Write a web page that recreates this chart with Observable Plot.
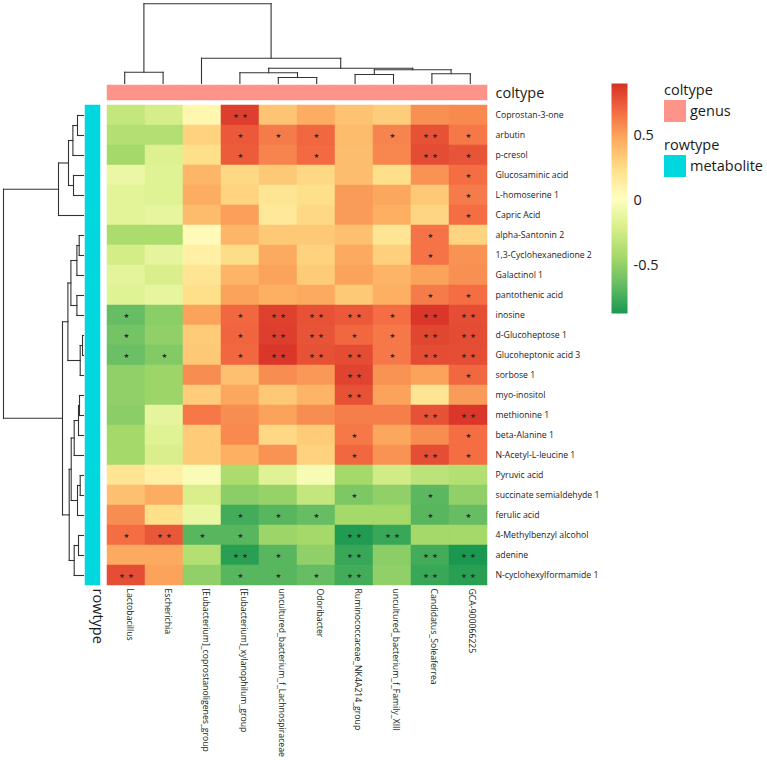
<!DOCTYPE html>
<html><head><meta charset="utf-8">
<script src="https://cdn.jsdelivr.net/npm/d3@7"></script>
<script src="https://cdn.jsdelivr.net/npm/@observablehq/plot@0.6"></script>
<style>
body{margin:0;background:#fff;}
#chart{position:relative;width:767px;height:764px;font-family:"Open Sans",sans-serif;}
#chart svg{position:absolute;left:0;top:0;}
</style></head><body><div id="chart"></div>
<script>
// ---------- data ----------
const genera = ["Lactobacillus","Escherichia","[Eubacterium]_coprostanoligenes_group","[Eubacterium]_xylanophilum_group","uncultured_bacterium_f_Lachnospiraceae","Odoribacter","Ruminococcaceae_NK4A214_group","uncultured_bacterium_f_Family_XIII","Candidatus_Soleaferrea","GCA-900066225"];
const metabolites = ["Coprostan-3-one","arbutin","p-cresol","Glucosaminic acid","L-homoserine 1","Capric Acid","alpha-Santonin 2","1,3-Cyclohexanedione 2","Galactinol 1","pantothenic acid","inosine","d-Glucoheptose 1","Glucoheptonic acid 3","sorbose 1","myo-inositol","methionine 1","beta-Alanine 1","N-Acetyl-L-leucine 1","Pyruvic acid","succinate semialdehyde 1","ferulic acid","4-Methylbenzyl alcohol","adenine","N-cyclohexylformamide 1"];
const corr = [
 [-0.30,-0.22, 0.08, 0.85, 0.36, 0.46, 0.37, 0.32, 0.56, 0.58],
 [-0.37,-0.37, 0.30, 0.75, 0.63, 0.70, 0.40, 0.60, 0.78, 0.64],
 [-0.43,-0.18, 0.24, 0.74, 0.60, 0.69, 0.39, 0.59, 0.80, 0.77],
 [-0.10,-0.17, 0.42, 0.27, 0.34, 0.27, 0.39, 0.24, 0.55, 0.68],
 [-0.15,-0.17, 0.46, 0.29, 0.20, 0.24, 0.52, 0.48, 0.34, 0.63],
 [-0.15,-0.12, 0.40, 0.51, 0.17, 0.27, 0.52, 0.45, 0.28, 0.68],
 [-0.40,-0.40, 0.05, 0.42, 0.34, 0.34, 0.38, 0.20, 0.66, 0.29],
 [-0.23,-0.13, 0.12, 0.25, 0.47, 0.30, 0.47, 0.31, 0.66, 0.55],
 [-0.14,-0.20, 0.20, 0.43, 0.50, 0.33, 0.50, 0.43, 0.50, 0.56],
 [-0.17,-0.12, 0.24, 0.50, 0.45, 0.47, 0.34, 0.45, 0.63, 0.68],
 [-0.65,-0.52, 0.50, 0.70, 0.84, 0.78, 0.75, 0.68, 0.88, 0.79],
 [-0.60,-0.50, 0.33, 0.71, 0.85, 0.77, 0.70, 0.64, 0.82, 0.80],
 [-0.63,-0.55, 0.34, 0.70, 0.88, 0.78, 0.80, 0.64, 0.80, 0.79],
 [-0.50,-0.46, 0.57, 0.38, 0.57, 0.53, 0.83, 0.55, 0.50, 0.70],
 [-0.50,-0.46, 0.32, 0.48, 0.34, 0.43, 0.78, 0.50, 0.20, 0.52],
 [-0.52,-0.13, 0.64, 0.57, 0.50, 0.57, 0.62, 0.62, 0.78, 0.88],
 [-0.43,-0.17, 0.33, 0.58, 0.27, 0.33, 0.64, 0.48, 0.57, 0.68],
 [-0.43,-0.20, 0.33, 0.45, 0.55, 0.30, 0.70, 0.55, 0.79, 0.68],
 [ 0.20, 0.12,-0.02,-0.40,-0.16,-0.03,-0.43,-0.24,-0.33,-0.37],
 [ 0.38, 0.46,-0.20,-0.52,-0.48,-0.30,-0.57,-0.50,-0.68,-0.50],
 [ 0.57, 0.24,-0.11,-0.75,-0.69,-0.65,-0.43,-0.43,-0.69,-0.65],
 [ 0.68, 0.76,-0.69,-0.69,-0.46,-0.43,-0.85,-0.78,-0.43,-0.43],
 [ 0.47, 0.47,-0.37,-0.83,-0.69,-0.50,-0.78,-0.52,-0.75,-0.87],
 [ 0.79, 0.50,-0.50,-0.69,-0.69,-0.65,-0.75,-0.50,-0.78,-0.83]
];
// significance: 0 none, 1 "*", 2 "**"
const stars = [
 [0,0,0,2,0,0,0,0,0,0],
 [0,0,0,1,1,1,0,1,2,1],
 [0,0,0,1,0,1,0,0,2,1],
 [0,0,0,0,0,0,0,0,0,1],
 [0,0,0,0,0,0,0,0,0,1],
 [0,0,0,0,0,0,0,0,0,1],
 [0,0,0,0,0,0,0,0,1,0],
 [0,0,0,0,0,0,0,0,1,0],
 [0,0,0,0,0,0,0,0,0,0],
 [0,0,0,0,0,0,0,0,1,1],
 [1,0,0,1,2,2,2,1,2,2],
 [1,0,0,1,2,2,1,1,2,2],
 [1,1,0,1,2,2,2,1,2,2],
 [0,0,0,0,0,0,2,0,0,1],
 [0,0,0,0,0,0,2,0,0,0],
 [0,0,0,0,0,0,0,0,2,2],
 [0,0,0,0,0,0,1,0,0,1],
 [0,0,0,0,0,0,1,0,2,1],
 [0,0,0,0,0,0,0,0,0,0],
 [0,0,0,0,0,0,1,0,1,0],
 [0,0,0,1,1,1,0,0,1,1],
 [1,2,1,1,0,0,2,2,0,0],
 [0,0,0,2,1,0,2,0,2,2],
 [2,0,0,1,1,1,2,0,2,2]
];
// hclust-style merges (negative = leaf in display order, positive = earlier merge, 1-based)
const colMergeLeft   = [-5,-4,-7,-9, 3, 2,-3,-1, 8];
const colMergeRight  = [-6, 1,-8,-10,4, 5, 6,-2, 7];
const colMergeHeight = [6,10.7,9,9.7,13.7,15.3,25.3,11.3,79.7];
const rowMergeLeft   = [-2,-1,-5,-4,-9,-8,-7, 4, 2,-12,-11,-14,-17,-16,12,11, 9,-23,-22,-20,20,-19,17];
const rowMergeRight  = [-3, 1,-6, 3,-10,5, 6, 7, 8,-13, 10,-15,-18, 13,14,15,16,-24, 18,-21,19, 21,22];
const rowMergeHeight = [5,9.3,3.3,6,4,5,9.3,12.3,14.3,1,3.3,6.6,4.3,6.6,12.6,15.6,21,6,10.6,10,15,25,80];
const colType = "genus", rowType = "metabolite";
const annotationColors = {genus: "#FE9389", metabolite: "#00D7DF"};
const palette = ["#1a9850","#66bd63","#a6d96a","#d9ef8b","#ffffbf","#fee08b","#fdae61","#f46d43","#d73027"];
const colorRange = [-0.87, 0.9];
const legendTicks = [-0.5, 0, 0.5];

// ---------- layout ----------
const W = 767, H = 764;
const hm = {left: 105, right: 489, top: 105, bottom: 585};
const FONT = "'Open Sans', sans-serif";
const INK = "#1a1a1a";
const base = {width: W, height: H, style: {background: "transparent", fontFamily: FONT, overflow: "visible"}};
const colorOpts = {type: "linear", domain: colorRange, interpolate: d3.piecewise(d3.interpolateRgb, palette)};
const chart = document.getElementById("chart");

function dendroLinks(L, R, Hs) {
  const pos = [], links = [];
  const P = r => r < 0 ? -r - 1 : pos[r - 1];
  const Hh = r => r < 0 ? 0 : Hs[r - 1];
  L.forEach((l, k) => {
    const r = R[k], h = Hs[k];
    pos[k] = (P(l) + P(r)) / 2;
    links.push({p1: P(l), h1: Hh(l), p2: P(l), h2: h});
    links.push({p1: P(r), h1: Hh(r), p2: P(r), h2: h});
    links.push({p1: P(l), h1: h, p2: P(r), h2: h});
  });
  return links;
}

const cells = [];
metabolites.forEach((m, i) => genera.forEach((g, j) => cells.push({m, g, v: corr[i][j], s: stars[i][j]})));

// heatmap + labels
chart.append(Plot.plot({...base,
  marginLeft: hm.left, marginRight: W - hm.right, marginTop: hm.top, marginBottom: H - hm.bottom,
  x: {type: "band", domain: genera, padding: 0, axis: null},
  y: {type: "band", domain: metabolites, padding: 0, axis: null},
  color: colorOpts,
  marks: [
    Plot.cell(cells, {x: "g", y: "m", fill: "v", stroke: "v", strokeWidth: 0.5}),
    Plot.text(cells.filter(d => d.s === 1), {x: "g", y: "m", text: () => "★", fontSize: 6.5, fill: "#2a2a2a", fontFamily: "DejaVu Sans"}),
    Plot.text(cells.filter(d => d.s === 2), {x: "g", y: "m", text: () => "★", dx: -4.5, fontSize: 6.5, fill: "#2a2a2a", fontFamily: "DejaVu Sans"}),
    Plot.text(cells.filter(d => d.s === 2), {x: "g", y: "m", text: () => "★", dx: 4.5, fontSize: 6.5, fill: "#2a2a2a", fontFamily: "DejaVu Sans"}),
    Plot.text(metabolites, {y: d => d, text: d => d, frameAnchor: "right", textAnchor: "start", dx: 6, fontSize: 8.7, fill: INK}),
    Plot.text(genera, {x: d => d, text: d => d, frameAnchor: "bottom", rotate: 90, textAnchor: "start", dy: 3, fontSize: 8.7, fill: INK})
  ]}));

// column annotation bar
chart.append(Plot.plot({...base,
  marginLeft: hm.left, marginRight: W - hm.right, marginTop: 85, marginBottom: H - 100,
  x: {type: "band", domain: genera, padding: 0, axis: null},
  y: {type: "band", domain: ["coltype"], padding: 0, axis: null},
  color: {type: "ordinal", domain: Object.keys(annotationColors), range: Object.values(annotationColors)},
  marks: [
    Plot.cell(genera, {x: d => d, y: () => "coltype", fill: () => colType, stroke: () => colType, strokeWidth: 0.5}),
    Plot.text(["coltype"], {y: d => d, text: d => d, frameAnchor: "right", textAnchor: "start", dx: 6, fontSize: 14.5, fill: INK})
  ]}));

// row annotation bar
chart.append(Plot.plot({...base,
  marginLeft: 85, marginRight: W - 100, marginTop: hm.top, marginBottom: H - hm.bottom,
  x: {type: "band", domain: ["rowtype"], padding: 0, axis: null},
  y: {type: "band", domain: metabolites, padding: 0, axis: null},
  color: {type: "ordinal", domain: Object.keys(annotationColors), range: Object.values(annotationColors)},
  marks: [
    Plot.cell(metabolites, {x: () => "rowtype", y: d => d, fill: () => rowType, stroke: () => rowType, strokeWidth: 0.5}),
    Plot.text(["rowtype"], {x: d => d, text: d => d, frameAnchor: "bottom", rotate: 90, textAnchor: "start", dy: 3, fontSize: 14.5, fill: INK})
  ]}));

// column dendrogram
chart.append(Plot.plot({...base,
  marginLeft: hm.left, marginRight: W - hm.right, marginTop: 3, marginBottom: H - 83,
  x: {domain: [-0.5, genera.length - 0.5], axis: null},
  y: {domain: [0, 80], axis: null},
  marks: [Plot.link(dendroLinks(colMergeLeft, colMergeRight, colMergeHeight),
    {x1: "p1", y1: "h1", x2: "p2", y2: "h2", stroke: "#333", strokeWidth: 1.1, strokeLinecap: "square"})]
}));

// row dendrogram
chart.append(Plot.plot({...base,
  marginLeft: 3, marginRight: W - 83, marginTop: hm.top, marginBottom: H - hm.bottom,
  x: {domain: [80, 0], axis: null},
  y: {domain: [-0.5, metabolites.length - 0.5], axis: null},
  marks: [Plot.link(dendroLinks(rowMergeLeft, rowMergeRight, rowMergeHeight),
    {x1: "h1", y1: "p1", x2: "h2", y2: "p2", stroke: "#333", strokeWidth: 1.1, strokeLinecap: "square"})]
}));

// color bar legend
chart.append(Plot.plot({...base,
  marginLeft: 611, marginRight: W - 627, marginTop: 83, marginBottom: H - 313,
  x: {domain: [0, 1], axis: null},
  y: {domain: colorRange, axis: null},
  color: colorOpts,
  marks: [
    Plot.raster({fill: (x, y) => y, x1: 0, x2: 1, y1: colorRange[0], y2: colorRange[1], pixelSize: 1}),
    Plot.axisY(legendTicks, {anchor: "right", tickSize: 0, tickPadding: 6, fontSize: 14.5, label: null, tickFormat: d => String(d), fill: INK})
  ]}));

// annotation legend
const lg = d3.create("svg").attr("width", W).attr("height", H).style("font-family", FONT);
const items = [{title: "coltype", key: colType, y: 100}, {title: "rowtype", key: rowType, y: 155}];
for (const it of items) {
  lg.append("text").attr("x", 664).attr("y", it.y - 5).attr("font-size", 14.5).attr("fill", INK).text(it.title);
  lg.append("rect").attr("x", 664).attr("y", it.y).attr("width", 22).attr("height", 22).attr("fill", annotationColors[it.key]);
  lg.append("text").attr("x", 690).attr("y", it.y + 16).attr("font-size", 14.5).attr("fill", INK).text(it.key);
}
chart.append(lg.node());
</script></body></html>
